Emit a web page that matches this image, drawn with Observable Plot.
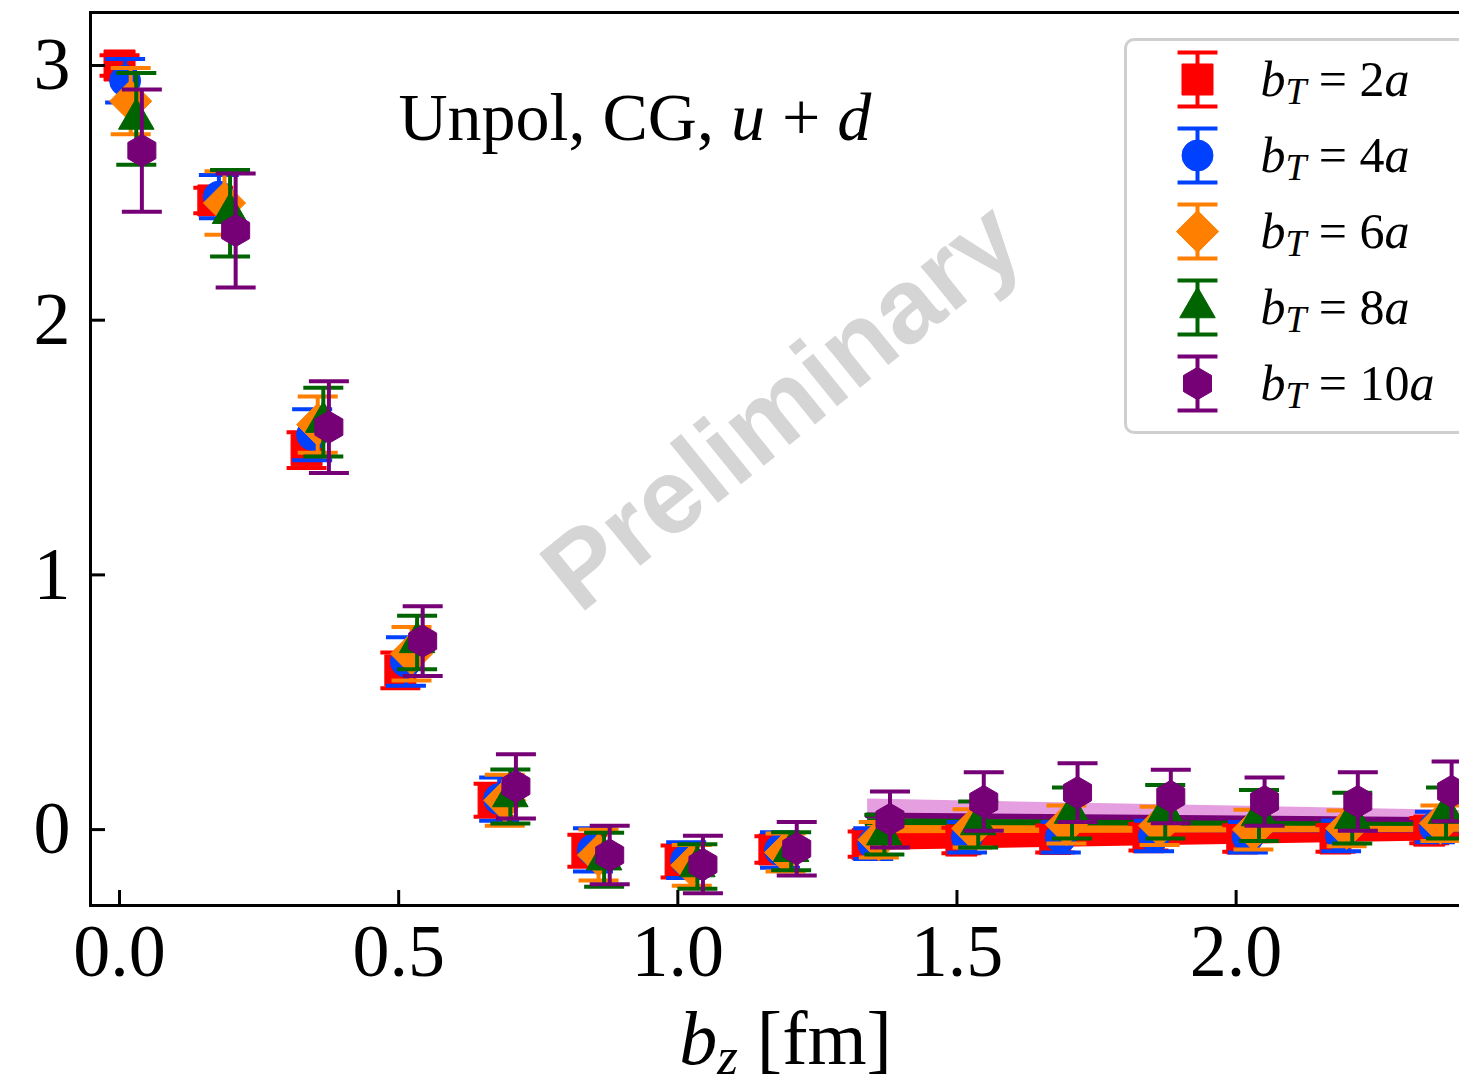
<!DOCTYPE html>
<html><head><meta charset="utf-8">
<script src="https://cdn.jsdelivr.net/npm/d3@7"></script>
<script src="https://cdn.jsdelivr.net/npm/@observablehq/plot@0.6"></script>
<style>
html,body{margin:0;padding:0;background:#fff;overflow:hidden;}
#wrap{position:relative;width:1459px;height:1087px;overflow:hidden;}
#chart{position:absolute;left:0;top:0;}
#legend{position:absolute;left:1124px;top:38px;width:346px;height:396px;box-sizing:border-box;border:3px solid #cfcfcf;border-radius:10px;background:rgba(255,255,255,0.85);}
</style></head><body>
<div id="wrap"><div id="chart"></div><div id="legend"></div></div>
<script>
// ---------------- data ----------------
const seriesLabels = ["2a", "4a", "6a", "8a", "10a"];
const bz = [0.000, 0.168, 0.335, 0.503, 0.670, 0.838, 1.005, 1.173, 1.340, 1.508, 1.676, 1.843, 2.011, 2.178, 2.346];
const xOffset = [0.000, 0.010, 0.020, 0.030, 0.040];

const mean2a  = [3.00, 2.47, 1.49, 0.625, 0.115, -0.083, -0.125, -0.078, -0.057, -0.043, -0.037, -0.030, -0.035, -0.035, -0.004];
const err2a   = [0.04, 0.05, 0.07, 0.07, 0.065, 0.063, 0.063, 0.052, 0.050, 0.050, 0.053, 0.052, 0.052, 0.052, 0.050];
const mean4a  = [2.94, 2.485, 1.55, 0.66, 0.12, -0.08, -0.12, -0.08, -0.055, -0.030, -0.030, -0.025, -0.030, -0.025, 0.010];
const err4a   = [0.085, 0.085, 0.10, 0.095, 0.085, 0.085, 0.07, 0.07, 0.06, 0.06, 0.06, 0.06, 0.06, 0.06, 0.06];
const mean6a  = [2.86, 2.46, 1.59, 0.69, 0.115, -0.10, -0.14, -0.09, -0.04, 0.005, 0.02, 0.015, 0.000, 0.005, 0.025];
const err6a   = [0.13, 0.125, 0.11, 0.105, 0.10, 0.10, 0.08, 0.075, 0.07, 0.075, 0.075, 0.075, 0.078, 0.07, 0.07];
const mean8a  = [2.79, 2.42, 1.60, 0.735, 0.13, -0.118, -0.145, -0.085, -0.02, 0.02, 0.065, 0.07, 0.055, 0.045, 0.065];
const err8a   = [0.18, 0.17, 0.135, 0.105, 0.106, 0.106, 0.087, 0.075, 0.078, 0.09, 0.10, 0.105, 0.10, 0.10, 0.10];
const mean10a = [2.666, 2.352, 1.58, 0.74, 0.17, -0.10, -0.137, -0.075, 0.04, 0.11, 0.145, 0.13, 0.11, 0.11, 0.15];
const err10a  = [0.24, 0.224, 0.18, 0.137, 0.126, 0.115, 0.113, 0.105, 0.11, 0.115, 0.115, 0.105, 0.095, 0.115, 0.117];

// fit bands (value at start and end of fit range)
const bandX = [1.34, 2.40];
const bandLo2a  = [-0.082, -0.043], bandHi2a  = [-0.016, -0.012], fit2a  = [-0.049, -0.028];
const bandLo4a  = [-0.060, -0.040], bandHi4a  = [-0.020, -0.010], fit4a  = [-0.040, -0.025];
const bandLo6a  = [-0.030, -0.030], bandHi6a  = [0.016, 0.012],   fit6a  = [-0.007, -0.009];
const bandLo8a  = [0.000, -0.010],  bandHi8a  = [0.043, 0.027],   fit8a  = [0.022, 0.008];
const bandLo10a = [-0.010, 0.000],  bandHi10a = [0.120, 0.075],   fit10a = [0.055, 0.037];

const xTicks = [0.0, 0.5, 1.0, 1.5, 2.0];
const yTicks = [0, 1, 2, 3];

const titleText = "Unpol, CG, u+d";
const xLabelText = "b_z [fm]";
const watermark = "Preliminary";

// ---------------- styles ----------------
const colors = ["#ff0000", "#0040ff", "#ff7f00", "#006400", "#760076"];
const bandFill = ["#ff0000", "#0040ff", "#ff7f00", "#006400", "#e59ee0"];
const radii = [17.5, 15.5, 19, 13.2, 14];
const symbols = ["square", "circle", "diamond2", "triangle", "hexagon"];

const capSym = {draw(ctx, size) { const w = Math.sqrt(size / Math.PI); ctx.moveTo(-w, 0); ctx.lineTo(w, 0); }};
const errSym = {draw(ctx, size) { const h = Math.sqrt(size / Math.PI), w = h * 0.74;
  ctx.moveTo(0, -h); ctx.lineTo(0, h); ctx.moveTo(-w, -h); ctx.lineTo(w, -h); ctx.moveTo(-w, h); ctx.lineTo(w, h); }};

const means = [mean2a, mean4a, mean6a, mean8a, mean10a];
const errs = [err2a, err4a, err6a, err8a, err10a];
const bandLos = [bandLo2a, bandLo4a, bandLo6a, bandLo8a, bandLo10a];
const bandHis = [bandHi2a, bandHi4a, bandHi6a, bandHi8a, bandHi10a];
const fits = [fit2a, fit4a, fit6a, fit8a, fit10a];

const points = seriesLabels.map((s, k) => bz.map((b, j) => ({
  k, x: b + xOffset[k], mean: means[k][j], lo: means[k][j] - errs[k][j], hi: means[k][j] + errs[k][j]
})));
const bands = seriesLabels.map((s, k) => bandX.map((x, j) => ({x, lo: bandLos[k][j], hi: bandHis[k][j], fit: fits[k][j]})));

// ---------------- main plot ----------------
const W = 1459, H = 1087, mL = 90, mT = 12, mB = 182, mR = -3;
const frameH = H - mT - mB, frameW = W - mL - mR;
const serif = "'Liberation Serif', 'DejaVu Serif', serif";

const marks = [];
marks.push(Plot.text([watermark], {text: d => d, frameAnchor: "middle", dx: 6, dy: -52, rotate: -39,
  fontSize: 106, fontWeight: "bold", fontFamily: "'Liberation Sans', Arial, sans-serif", fill: "#d5d5d5",
  textAnchor: "middle", lineAnchor: "middle"}));
for (const k of [4, 3, 2, 1, 0]) {
  marks.push(Plot.areaY(bands[k], {x: "x", y1: "lo", y2: "hi", fill: bandFill[k], curve: "linear"}));
  marks.push(Plot.line(bands[k], {x: "x", y: "fit", stroke: colors[k], strokeWidth: 6}));
}
for (let k = 0; k < 5; k++) {
  const d = points[k];
  marks.push(Plot.ruleX(d, {x: "x", y1: "lo", y2: "hi", stroke: colors[k], strokeWidth: 4}));
  marks.push(Plot.dot(d, {x: "x", y: "lo", symbol: capSym, r: 20, stroke: colors[k], fill: "none", strokeWidth: 4}));
  marks.push(Plot.dot(d, {x: "x", y: "hi", symbol: capSym, r: 20, stroke: colors[k], fill: "none", strokeWidth: 4}));
  marks.push(Plot.dot(d, {x: "x", y: "mean", symbol: symbols[k], r: radii[k], fill: colors[k], stroke: colors[k], strokeWidth: 1}));
}
marks.push(Plot.frame({stroke: "black", strokeWidth: 3}));
marks.push(Plot.tickX(xTicks, {x: d => d, stroke: "black", strokeWidth: 3, insetTop: frameH - 15}));
marks.push(Plot.tickY(yTicks, {y: d => d, stroke: "black", strokeWidth: 3, insetRight: frameW - 15}));
marks.push(Plot.axisX(xTicks, {tickSize: 0, tickPadding: 18, tickFormat: d3.format(".1f"), label: null, fontSize: 74}));
marks.push(Plot.axisY(yTicks, {tickSize: 0, tickPadding: 20, tickFormat: d => String(d), label: null, fontSize: 74}));
marks.push(Plot.text([titleText], {text: d => d, frameAnchor: "top-left", dx: 308, dy: 106, textAnchor: "start", lineAnchor: "middle", fontSize: 68}));
marks.push(Plot.text([xLabelText], {text: d => d, frameAnchor: "bottom", dx: 9, dy: 134, textAnchor: "middle", lineAnchor: "middle", fontSize: 76}));

const chart = Plot.plot({
  width: W, height: H, marginLeft: mL, marginRight: mR, marginTop: mT, marginBottom: mB,
  x: {domain: [-0.052, 2.4055]},
  y: {domain: [-0.298, 3.208]},
  style: {fontFamily: serif, fontSize: "74px", background: "transparent", overflow: "visible", color: "black"},
  marks
});
document.getElementById("chart").appendChild(chart);

// rich text helper
function rich(root, match, parts, fs, subScale, subShift) {
  d3.select(root).selectAll("text").filter(function() { return this.textContent === match; }).each(function() {
    const sel = d3.select(this); sel.selectAll("*").remove(); sel.text(null);
    let shifted = false;
    for (const p of parts) {
      const t = sel.append("tspan").text(p.t);
      if (p.i) t.attr("font-style", "italic");
      if (p.sub) { t.attr("font-size", fs * subScale).attr("dy", fs * subShift); shifted = true; }
      else if (shifted) { t.attr("dy", -fs * subShift); shifted = false; }
    }
  });
}
rich(chart, titleText, [{t: "Unpol, CG, "}, {t: "u", i: true}, {t: " + "}, {t: "d", i: true}], 68, 0.7, 0.2);
rich(chart, xLabelText, [{t: "b", i: true}, {t: "z", i: true, sub: true}, {t: " [fm]"}], 76, 0.7, 0.13);

// ---------------- legend ----------------
const legendData = seriesLabels.map((s, k) => ({k, label: "b_T=" + s, value: s}));
const lmarks = [];
for (let k = 0; k < 5; k++) {
  const d = [legendData[k]];
  lmarks.push(Plot.dot(d, {y: "label", frameAnchor: "left", dx: 70, symbol: errSym, r: 27, stroke: colors[k], fill: "none", strokeWidth: 4}));
  lmarks.push(Plot.dot(d, {y: "label", frameAnchor: "left", dx: 70, symbol: symbols[k], r: radii[k], fill: colors[k], stroke: colors[k], strokeWidth: 1}));
}
lmarks.push(Plot.text(legendData, {y: "label", text: "label", frameAnchor: "left", dx: 133, textAnchor: "start", lineAnchor: "middle", fontSize: 50}));
const legend = Plot.plot({
  width: 340, height: 390, margin: 0,
  y: {type: "point", domain: legendData.map(d => d.label), range: [37, 342], padding: 0, axis: null},
  style: {fontFamily: serif, fontSize: "50px", background: "transparent", overflow: "visible"},
  marks: lmarks
});
document.getElementById("legend").appendChild(legend);
for (const d of legendData) {
  const num = d.value.replace("a", "");
  rich(legend, d.label, [{t: "b", i: true}, {t: "T", i: true, sub: true}, {t: " = "}, {t: num}, {t: "a", i: true}], 50, 0.75, 0.16);
}
</script>
</body></html>
